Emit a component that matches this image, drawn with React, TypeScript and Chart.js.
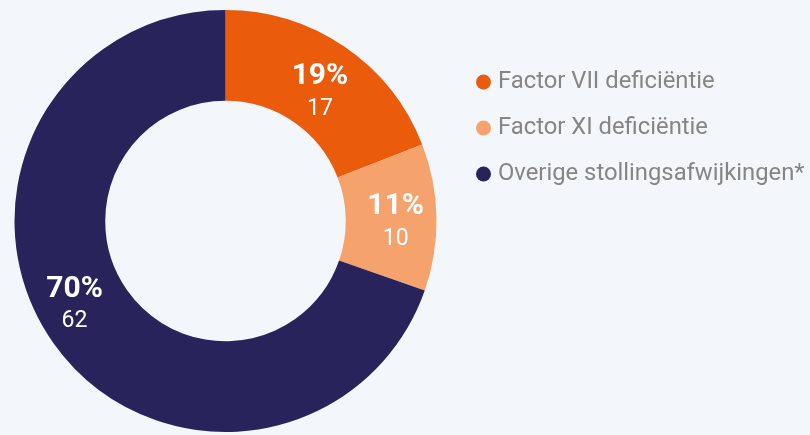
import React, { useEffect, useRef } from 'react';
import { Chart, registerables } from 'chart.js';

Chart.register(...registerables);

const categories = ['Factor VII deficiëntie', 'Factor XI deficiëntie', 'Overige stollingsafwijkingen*'];
const counts = [17, 10, 62];
const colors = ['#ea5b0c', '#f5a26c', '#29235c'];

// label nudges (angle in degrees, radius in px) relative to the arc's mid point
const labelAngleShift = [1.5, 0.8, 7];
const labelRadiusShift = [-4.5, 4.5, 6];

const BG = '#f3f7fb';
const LEGEND_TEXT = '#858585';
const CANVAS_W = 900;
const CANVAS_SHIFT = 20;
const LEGEND_FONT = 23.8;
const LEGEND_BOX_W = 5.2;
const LEGEND_PAD = 22.2;
const LEGEND_LEFT = 478.7;

export default function App() {
  const ref = useRef<HTMLCanvasElement>(null);

  useEffect(() => {
    const canvas = ref.current;
    if (!canvas) return;
    const total = counts.reduce((a, b) => a + b, 0);

    const mctx = document.createElement('canvas').getContext('2d')!;
    mctx.font = `${LEGEND_FONT}px Roboto`;
    const maxText = Math.max(...categories.map((c) => mctx.measureText(c).width));
    const legendW = LEGEND_PAD + LEGEND_BOX_W + LEGEND_FONT / 2 + maxText + 10;
    const padRight = CANVAS_W - LEGEND_LEFT - legendW;

    const labelPlugin = {
      id: 'segLabels',
      afterDatasetsDraw(chart: any) {
        const ctx = chart.ctx;
        const meta = chart.getDatasetMeta(0);
        meta.data.forEach((arc: any, i: number) => {
          const p = arc.getProps(['x', 'y', 'startAngle', 'endAngle', 'innerRadius', 'outerRadius'], true);
          const a = (p.startAngle + p.endAngle) / 2 + (labelAngleShift[i] * Math.PI) / 180;
          const r = (p.innerRadius + p.outerRadius) / 2 + labelRadiusShift[i];
          const cx = p.x + Math.cos(a) * r;
          const cy = p.y + Math.sin(a) * r;
          ctx.save();
          ctx.fillStyle = '#ffffff';
          ctx.textAlign = 'center';
          ctx.textBaseline = 'middle';
          ctx.font = 'bold 30px Roboto';
          ctx.fillText(Math.round((counts[i] / total) * 100) + '%', cx, cy - 13.5);
          ctx.font = '23px Roboto';
          ctx.fillText(String(counts[i]), cx, cy + 18.5);
          ctx.restore();
        });
      },
    };

    const chart = new Chart(canvas, {
      type: 'doughnut',
      data: {
        labels: categories,
        datasets: [
          {
            data: counts,
            backgroundColor: colors,
            borderWidth: 0,
          },
        ],
      },
      options: {
        animation: false,
        responsive: false,
        maintainAspectRatio: false,
        cutout: '57%',
        layout: { padding: { left: 12.3, right: padRight, top: 10, bottom: 3 } },
        plugins: {
          tooltip: { enabled: false },
          legend: {
            position: 'right',
            align: 'start',
            title: { display: true, text: ' ', font: { size: 10 }, padding: 12.95 },
            labels: {
              usePointStyle: true,
              pointStyle: 'circle',
              boxWidth: LEGEND_BOX_W,
              boxHeight: 10.6,
              padding: LEGEND_PAD,
              color: LEGEND_TEXT,
              font: { family: 'Roboto', size: LEGEND_FONT },
            },
          },
        },
      },
      plugins: [labelPlugin],
    });
    return () => chart.destroy();
  }, []);

  return (
    <div style={{ position: 'fixed', left: 0, top: 0, width: 810, height: 435, overflow: 'hidden', background: BG }}>
      <canvas
        ref={ref}
        width={CANVAS_W}
        height={435}
        style={{ position: 'absolute', left: -CANVAS_SHIFT, top: 0, width: CANVAS_W, height: 435 }}
      />
    </div>
  );
}
